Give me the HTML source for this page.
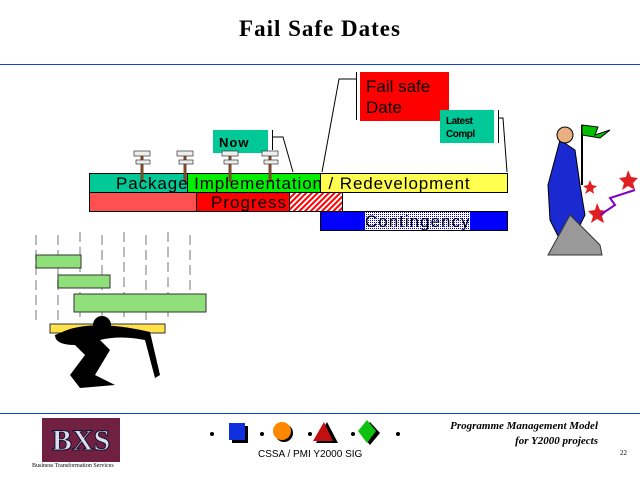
<!DOCTYPE html>
<html><head><style>
body{margin:0;width:640px;height:480px;background:#fff;overflow:hidden;position:relative;font-family:"Liberation Sans",sans-serif}
.a{position:absolute}
</style></head><body>
<div class="a" style="left:0;top:16px;width:640px;text-align:center;font:bold 23px 'Liberation Serif',serif;letter-spacing:1px">Fail Safe Dates</div>
<div class="a" style="left:0;top:64px;width:640px;height:1px;background:#1040e0"></div>
<div class="a" style="left:0;top:413px;width:640px;height:1px;background:#1040e0"></div>
<svg class="a" style="left:0;top:0" width="640" height="480">
<defs><pattern id="h" width="4" height="4" patternUnits="userSpaceOnUse" patternTransform="rotate(45)"><rect width="4" height="4" fill="#fff"/><rect width="2" height="4" fill="#f00"/></pattern>
<pattern id="c" width="2" height="2" patternUnits="userSpaceOnUse"><rect width="2" height="2" fill="#fff"/><rect width="1" height="1" fill="#00f"/></pattern></defs>
<g stroke="#000" stroke-width="1">
<rect x="89.5" y="173.5" width="98" height="19" fill="#00c896"/>
<rect x="187.5" y="173.5" width="133" height="19" fill="#00f000"/>
<rect x="320.5" y="173.5" width="187" height="19" fill="#ffff50"/>
<rect x="89.5" y="192.5" width="107" height="19" fill="#ff5050"/>
<rect x="196.5" y="192.5" width="93" height="19" fill="#f00"/>
<rect x="289.5" y="192.5" width="53" height="19" fill="url(#h)"/>
<rect x="320.5" y="211.5" width="187" height="19" fill="#00f"/>
</g>
<rect x="365" y="212" width="105" height="18" fill="url(#c)"/>
<rect x="213" y="130" width="55" height="23" fill="#00c896"/>
<rect x="360" y="72" width="89" height="49" fill="#f00"/>
<rect x="440" y="110" width="54" height="33" fill="#00c896"/>
<g stroke="#000" fill="none">
<path d="M272.5 130V150M272.5 137H283L293 172"/>
<path d="M356.5 72V120M356.5 79H339L322 172"/>
<path d="M498.5 110V143M498.5 118H503L507 172"/>
</g>
<g stroke="#7a4a2a" stroke-width="3">
<line x1="142" y1="155" x2="142" y2="182"/><line x1="185" y1="155" x2="185" y2="182"/><line x1="230" y1="155" x2="230" y2="182"/><line x1="270" y1="155" x2="270" y2="182"/></g>
<g fill="#eee" stroke="#333" stroke-width="0.7">
<rect x="134" y="151" width="16" height="5"/><rect x="136" y="160" width="14" height="4"/>
<rect x="177" y="151" width="16" height="5"/><rect x="179" y="160" width="14" height="4"/>
<rect x="222" y="151" width="16" height="5"/><rect x="224" y="160" width="14" height="4"/>
<rect x="262" y="151" width="16" height="5"/><rect x="264" y="160" width="14" height="4"/></g>
<g stroke="#bbb" stroke-width="2" stroke-dasharray="10 5">
<line x1="36" y1="235" x2="36" y2="320"/><line x1="58" y1="235" x2="58" y2="320"/><line x1="80" y1="232" x2="80" y2="320"/><line x1="102" y1="235" x2="102" y2="320"/><line x1="124" y1="232" x2="124" y2="320"/><line x1="146" y1="235" x2="146" y2="320"/><line x1="168" y1="232" x2="168" y2="320"/><line x1="190" y1="235" x2="190" y2="300"/></g>
<g fill="#8fe07a" stroke="#333"><rect x="36" y="255" width="45" height="13"/><rect x="58" y="275" width="52" height="13"/><rect x="74" y="294" width="132" height="18"/></g>
<rect x="50" y="324" width="115" height="9" fill="#ffe24a" stroke="#333"/>
<path d="M60 333Q90 318 150 332L160 375L155 378L145 340Q120 335 100 340L110 350L95 375L115 385L80 388L70 375L85 355L75 345Q55 345 55 335Z" fill="#000"/>
<circle cx="102" cy="325" r="9" fill="#000"/>
<path d="M560 140L575 150L580 185L585 215L575 235L560 240L550 220L548 185Z" fill="#1a2ad0" stroke="#000"/>
<circle cx="565" cy="135" r="8" fill="#e8b080" stroke="#000"/>
<path d="M548 255L570 215L600 245L602 255Z" fill="#999" stroke="#333"/>
<line x1="582" y1="125" x2="582" y2="185" stroke="#000" stroke-width="2"/>
<path d="M582 125L598 127L595 135L610 130L600 138L582 135Z" fill="#00c000" stroke="#000"/>
<path d="M628 170l3 7 7 1-5 5 2 7-7-4-6 4 2-7-5-5 7-1z" fill="#e02020"/>
<path d="M597 203l3 7 7 1-5 5 2 7-7-4-6 4 2-7-5-5 7-1z" fill="#e02020"/>
<path d="M590 180l2 5 5 1-4 3 1 5-4-3-5 3 2-5-4-3 5-1z" fill="#e02020"/>
<path d="M600 215L615 205L610 198L635 190" stroke="#8000c0" fill="none" stroke-width="2"/>
<rect x="42" y="418" width="78" height="44" fill="#702040"/>
<text x="81" y="450" text-anchor="middle" font-family="Liberation Serif" font-size="30" font-weight="bold" fill="#dde" stroke="#113" stroke-width="1">BXS</text>
<g fill="#000"><circle cx="212" cy="434" r="2"/><circle cx="262" cy="434" r="2"/><circle cx="310" cy="434" r="2"/><circle cx="353" cy="434" r="2"/><circle cx="398" cy="434" r="2"/></g>
<rect x="232" y="426" width="16" height="17" fill="#000"/><rect x="229" y="423" width="16" height="17" fill="#1030e0"/>
<circle cx="284" cy="433" r="9" fill="#000"/><circle cx="282" cy="431" r="9" fill="#ff8800"/>
<path d="M316 443L327 422L338 443Z" fill="#000"/><path d="M313 441L324 422L333 441Z" fill="#c01010"/>
<path d="M370 422L380 433L370 445L360 433Z" fill="#000"/><path d="M367 420L376 431L367 443L358 431Z" fill="#10c010"/>
</svg>
<div class="a" style="left:219px;top:135px;font:bold 13px 'Liberation Sans';letter-spacing:1px">Now</div>
<div class="a" style="left:366px;top:76px;font:17px/21px 'Liberation Sans'">Fail safe<br>Date</div>
<div class="a" style="left:446px;top:115px;font:bold 10px/13px 'Liberation Sans';letter-spacing:-0.5px">Latest<br>Compl</div>
<div class="a" style="left:116px;top:174px;font:17px 'Liberation Sans';letter-spacing:0.9px;white-space:nowrap">Package Implementation / Redevelopment</div>
<div class="a" style="left:211px;top:193px;font:17px 'Liberation Sans';letter-spacing:1px">Progress</div>
<div class="a" style="left:365px;top:212px;font:17px 'Liberation Sans';letter-spacing:1px">Contingency</div>
<div class="a" style="left:258px;top:449px;font:10px 'Liberation Sans'">CSSA / PMI Y2000 SIG</div>
<div class="a" style="left:400px;top:419px;width:198px;text-align:right;font:italic bold 11px/15px 'Liberation Serif',serif">Programme Management Model<br>for Y2000 projects</div>
<div class="a" style="left:620px;top:449px;font:7px 'Liberation Serif'">22</div>
<div class="a" style="left:32px;top:463px;font:6px 'Liberation Serif'">Business Transformation Services</div>
</body></html>
